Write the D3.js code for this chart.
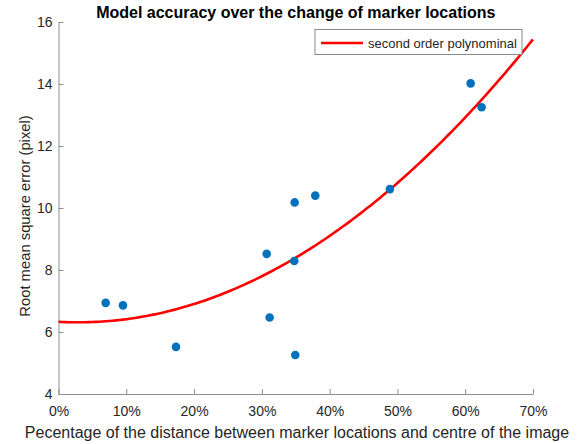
<!DOCTYPE html>
<html><head><meta charset="utf-8">
<script src="https://cdn.jsdelivr.net/npm/d3@7"></script>
<style>body{margin:0;background:#fff;} svg{display:block;font-family:"Liberation Sans",Arial,sans-serif;}</style>
</head><body>
<script>
// Data
const distancePct = [6.96, 9.51, 17.33, 30.71, 31.15, 34.84, 34.78, 34.93, 37.88, 48.89, 60.80, 62.42];
const rmseValues  = [6.94, 6.86, 5.52, 8.52, 6.47, 10.18, 8.29, 5.26, 10.40, 10.61, 14.02, 13.25];
// second order polynomial y = c0 + c1*x + c2*x^2 (x in %)
const fitCoefficients = [6.33, -0.01195, 0.00203];
const xTicks = [0, 10, 20, 30, 40, 50, 60, 70];
const yTicks = [4, 6, 8, 10, 12, 14, 16];
const titleText = "Model accuracy over the change of marker locations";
const xLabel = "Pecentage of the distance between marker locations and centre of the image";
const yLabel = "Root mean square error (pixel)";
const legendLabel = "second order polynominal";

const W = 581, H = 444;
const m = {left: 58.5, right: 48, top: 22, bottom: 50};
const svg = d3.select("body").append("svg").attr("width", W).attr("height", H);
const x = d3.scaleLinear().domain([0, 70]).range([m.left, W - m.right]);
const y = d3.scaleLinear().domain([4, 16]).range([H - m.bottom, m.top]);

const axisColor = "#8f8f8f", textColor = "#262626";

// axes
const xAxis = svg.append("g").attr("transform", `translate(0,${y(4)})`)
  .call(d3.axisBottom(x).tickValues(xTicks).tickFormat(d => d + "%").tickSizeInner(-5).tickSizeOuter(0));
const yAxis = svg.append("g").attr("transform", `translate(${x(0)},0)`)
  .call(d3.axisLeft(y).tickValues(yTicks).tickSizeInner(-5).tickSizeOuter(0));
[xAxis, yAxis].forEach(g => {
  g.select(".domain").attr("stroke", axisColor).attr("stroke-width", 1);
  g.selectAll(".tick line").attr("stroke", axisColor);
  g.selectAll(".tick text").attr("fill", textColor).style("font-size", "14px")
    .style("font-family", '"Liberation Sans",Arial,sans-serif');
});
xAxis.selectAll(".tick text").attr("y", 12);
yAxis.selectAll(".tick text").attr("x", -6);

// fitted curve
const fx = d3.range(0, 70.001, 0.5);
const line = d3.line().x(d => x(d)).y(d => y(fitCoefficients[0] + fitCoefficients[1]*d + fitCoefficients[2]*d*d));
svg.append("path").datum(fx).attr("d", line).attr("fill", "none")
  .attr("stroke", "#ff0000").attr("stroke-width", 2.6);

// points
svg.append("g").selectAll("circle").data(distancePct).join("circle")
  .attr("cx", d => x(d)).attr("cy", (d, i) => y(rmseValues[i])).attr("r", 4.3)
  .attr("fill", "#0072BD");

// title
svg.append("text").attr("x", (x(0) + x(70)) / 2).attr("y", 17.5).attr("text-anchor", "middle")
  .style("font-size", "16px").style("font-weight", "bold").attr("fill", "#000").text(titleText);
// x label
svg.append("text").attr("x", 297).attr("y", 438).attr("text-anchor", "middle")
  .style("font-size", "16px").attr("fill", textColor).text(xLabel);
// y label
svg.append("text").attr("transform", `translate(30,216) rotate(-90)`)
  .attr("text-anchor", "middle").style("font-size", "14.8px").attr("fill", textColor).text(yLabel);

// legend
const lg = svg.append("g");
lg.append("rect").attr("x", 315).attr("y", 29.5).attr("width", 207).attr("height", 25)
  .attr("fill", "#fff").attr("stroke", "#8a8a8a").attr("stroke-width", 1);
lg.append("line").attr("x1", 321).attr("x2", 363).attr("y1", 43).attr("y2", 43)
  .attr("stroke", "#ff0000").attr("stroke-width", 2.6);
lg.append("text").attr("x", 368).attr("y", 47.5).style("font-size", "13px").attr("fill", textColor).text(legendLabel);
</script>
</body></html>
